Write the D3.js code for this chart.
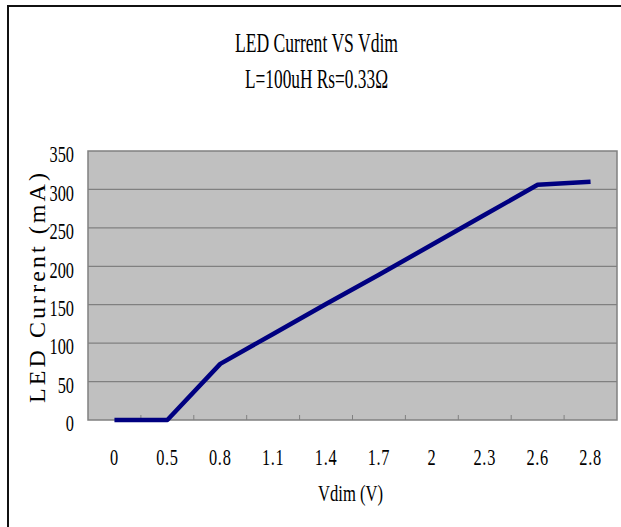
<!DOCTYPE html>
<html>
<head>
<meta charset="utf-8">
<script src="https://cdn.jsdelivr.net/npm/d3@7"></script>
<style>
  body { margin: 0; background: #fff; }
  text { font-family: "Liberation Serif", "DejaVu Serif", serif; fill: #000; }
</style>
</head>
<body>
<svg id="chart" width="621" height="527"></svg>
<script>
// data
const categories = ['0', '0.5', '0.8', '1.1', '1.4', '1.7', '2', '2.3', '2.6', '2.8'];
const current = [0, 0, 73, 112, 151, 189, 228, 267, 306, 310];
const yTicks = [0, 50, 100, 150, 200, 250, 300, 350];

const W = 621, H = 527;
const plot = { left: 88, right: 617, top: 151, bottom: 420 };
const SX = 0.68; // horizontal squeeze to mimic the condensed font

const svg = d3.select('#chart');

// outer frame (left + top edges are the only ones visible)
svg.append('path')
  .attr('d', `M8,${H} L8,6 L${W + 2},6`)
  .attr('fill', 'none')
  .attr('stroke', '#111')
  .attr('stroke-width', 2);

const x = d3.scaleBand()
  .domain(categories)
  .range([plot.left, plot.right]);

const y = d3.scaleLinear()
  .domain([0, 350])
  .range([plot.bottom, plot.top]);

// plot area
svg.append('rect')
  .attr('x', plot.left)
  .attr('y', plot.top)
  .attr('width', plot.right - plot.left)
  .attr('height', plot.bottom - plot.top)
  .attr('fill', '#c0c0c0')
  .attr('stroke', '#808080')
  .attr('stroke-width', 1.5);

// horizontal grid
svg.append('g')
  .selectAll('line')
  .data(yTicks.filter(d => d > 0 && d < 350))
  .join('line')
  .attr('x1', plot.left)
  .attr('x2', plot.right)
  .attr('y1', d => y(d))
  .attr('y2', d => y(d))
  .attr('stroke', '#808080')
  .attr('stroke-width', 1.2);

// small ticks on category boundaries
svg.append('g')
  .selectAll('line')
  .data(categories.slice(1))
  .join('line')
  .attr('x1', d => x(d))
  .attr('x2', d => x(d))
  .attr('y1', plot.bottom)
  .attr('y2', plot.bottom - 5)
  .attr('stroke', '#808080');

// y axis labels
const yAxis = svg.append('g')
  .attr('transform', `translate(${plot.left},0)`)
  .call(d3.axisLeft(y).tickValues(yTicks).tickSize(0).tickPadding(0));
yAxis.select('.domain').remove();
yAxis.selectAll('text')
  .style('font-size', '24px')
  .style('font-family', '"Liberation Serif", serif')
  .attr('x', -14 / SX)
  .attr('dy', '0.45em')
  .attr('transform', `scale(${SX},1)`);

// x axis labels
const xAxis = svg.append('g')
  .attr('transform', `translate(0,${plot.bottom})`)
  .call(d3.axisBottom(x).tickSize(0).tickPadding(0));
xAxis.select('.domain').remove();
xAxis.selectAll('.tick').each(function () {
  const t = d3.select(this);
  const tx = +t.attr('transform').match(/translate\(([-\d.]+)/)[1];
  t.attr('transform', `translate(${tx},0) scale(${SX},1)`);
});
xAxis.selectAll('text')
  .style('font-size', '24px')
  .style('font-family', '"Liberation Serif", serif')
  .style('letter-spacing', '1px')
  .attr('y', 37)
  .attr('dy', '0.35em');

// the line
const line = d3.line()
  .x((d, i) => x(categories[i]) + x.bandwidth() / 2)
  .y(d => y(d));

svg.append('path')
  .datum(current)
  .attr('d', line)
  .attr('fill', 'none')
  .attr('stroke', '#000080')
  .attr('stroke-width', 4.5)
  .attr('stroke-linejoin', 'round');

// titles
svg.append('text')
  .attr('x', 235).attr('y', 52)
  .attr('textLength', 163)
  .attr('lengthAdjust', 'spacingAndGlyphs')
  .style('font-size', '28px')
  .text('LED Current VS Vdim');

svg.append('text')
  .attr('x', 245).attr('y', 88)
  .attr('textLength', 143)
  .attr('lengthAdjust', 'spacingAndGlyphs')
  .style('font-size', '28px')
  .text('L=100uH Rs=0.33Ω');

svg.append('text')
  .attr('x', 318).attr('y', 501)
  .attr('textLength', 65)
  .attr('lengthAdjust', 'spacingAndGlyphs')
  .style('font-size', '24px')
  .text('Vdim (V)');

svg.append('text')
  .attr('transform', 'translate(45,403) rotate(-90)')
  .attr('textLength', 230)
  .attr('lengthAdjust', 'spacing')
  .style('font-size', '24px')
  .text('LED Current (mA)');
</script>
</body>
</html>
